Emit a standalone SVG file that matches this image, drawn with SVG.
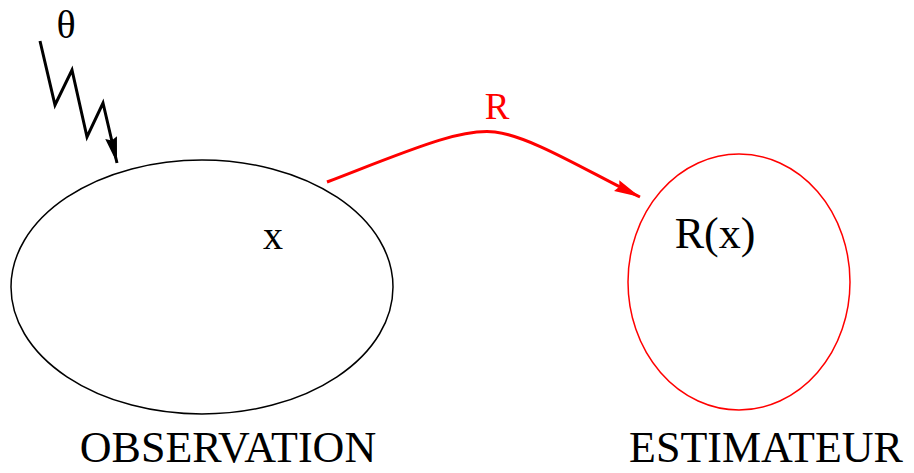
<svg xmlns="http://www.w3.org/2000/svg" width="914" height="473" viewBox="0 0 914 473">
<style>
text{font-family:"Liberation Serif","Times New Roman",serif;}
.lbl{font-size:44px;fill:#000;}
</style>
<defs>
<marker id="ab" markerUnits="userSpaceOnUse" markerWidth="28" markerHeight="16" refX="26" refY="7" orient="auto" viewBox="0 0 28 14">
<path d="M0,1 L26,7 L0,13 L3,7 Z" fill="#000"/>
</marker>
<marker id="ar" markerUnits="userSpaceOnUse" markerWidth="28" markerHeight="16" refX="26" refY="7" orient="auto" viewBox="0 0 28 14">
<path d="M0,1 L26,7 L0,13 L3,7 Z" fill="#f00"/>
</marker>
</defs>
<rect width="914" height="473" fill="#fff"/>
<g id="observation">
<ellipse cx="202" cy="287" rx="191" ry="127" fill="none" stroke="#000" stroke-width="1.5"/>
<text x="273" y="249" font-size="40" text-anchor="middle">x</text>
<text class="lbl" x="228" y="462" text-anchor="middle">OBSERVATION</text>
</g>
<g id="estimateur">
<ellipse cx="739" cy="282" rx="111" ry="128" fill="none" stroke="#f00" stroke-width="1.5"/>
<text x="715" y="248" font-size="44" text-anchor="middle">R(x)</text>
<text class="lbl" x="766" y="462" text-anchor="middle">ESTIMATEUR</text>
</g>
<g id="theta">
<text x="66" y="38" font-size="40" text-anchor="middle">θ</text>
</g>
<g id="connectors">
<polyline points="40,41 55,105 72,70 87,137 103,103 117,163" fill="none" stroke="#000" stroke-width="3" stroke-linejoin="miter" marker-end="url(#ab)"/>
<path d="M327,182 C410,150 460,128 495,132 C530,136 585,170 640,197" fill="none" stroke="#f00" stroke-width="3" marker-end="url(#ar)"/>
<text x="497" y="119" font-size="37" fill="#f00" text-anchor="middle">R</text>
</g>
</svg>
